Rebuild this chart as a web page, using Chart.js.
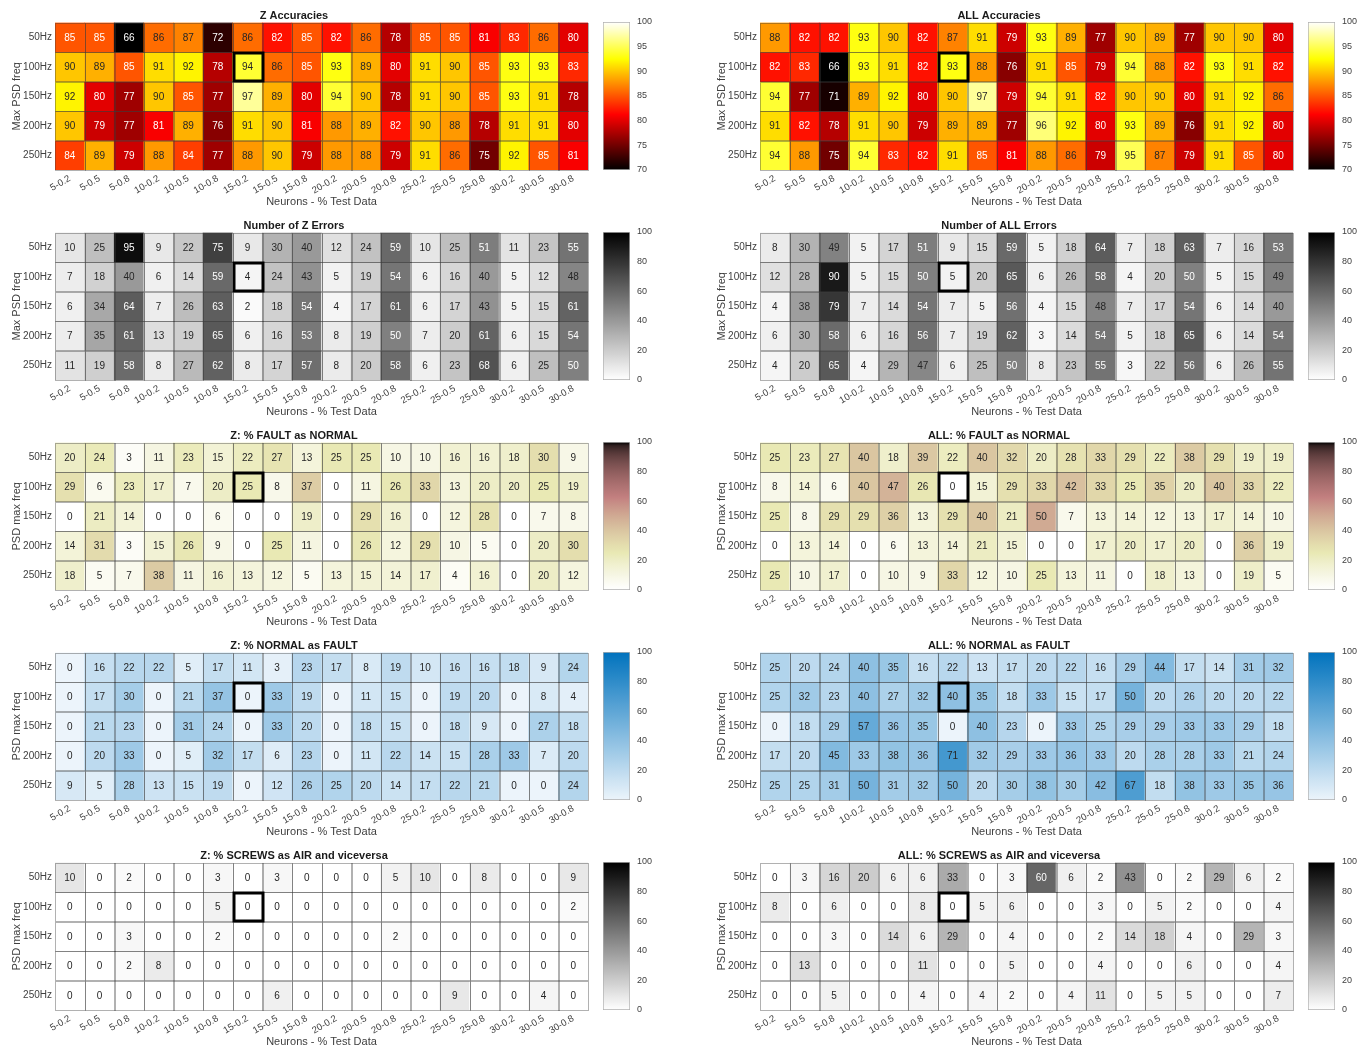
<!DOCTYPE html>
<html>
<head>
<meta charset="utf-8">
<style>
body { margin:0; background:#fff; width:1370px; height:1048px; position:relative; overflow:hidden; }
canvas { position:absolute; }
</style>
</head>
<body>
<script src="https://cdn.jsdelivr.net/npm/chart.js"></script>
<script>
var cols = ['5-0.2','5-0.5','5-0.8','10-0.2','10-0.5','10-0.8','15-0.2','15-0.5','15-0.8',
	'20-0.2','20-0.5','20-0.8','25-0.2','25-0.5','25-0.8','30-0.2','30-0.5','30-0.8'];
var rows = ['50Hz','100Hz','150Hz','200Hz','250Hz'];

// colour limits of the colorbars
var accRange = [70, 100];
var pctRange = [0, 100];

// best configuration (100Hz, 15-0.2)
var best = [1, 6];

var zAcc = [
	[85,85,66,86,87,72,86,82,85,82,86,78,85,85,81,83,86,80],
	[90,89,85,91,92,78,94,86,85,93,89,80,91,90,85,93,93,83],
	[92,80,77,90,85,77,97,89,80,94,90,78,91,90,85,93,91,78],
	[90,79,77,81,89,76,91,90,81,88,89,82,90,88,78,91,91,80],
	[84,89,79,88,84,77,88,90,79,88,88,79,91,86,75,92,85,81],
];
var allAcc = [
	[88,82,82,93,90,82,87,91,79,93,89,77,90,89,77,90,90,80],
	[82,83,66,93,91,82,93,88,76,91,85,79,94,88,82,93,91,82],
	[94,77,71,89,92,80,90,97,79,94,91,82,90,90,80,91,92,86],
	[91,82,78,91,90,79,89,89,77,96,92,80,93,89,76,91,92,80],
	[94,88,75,94,83,82,91,85,81,88,86,79,95,87,79,91,85,80],
];
var zErr = [
	[10,25,95,9,22,75,9,30,40,12,24,59,10,25,51,11,23,55],
	[7,18,40,6,14,59,4,24,43,5,19,54,6,16,40,5,12,48],
	[6,34,64,7,26,63,2,18,54,4,17,61,6,17,43,5,15,61],
	[7,35,61,13,19,65,6,16,53,8,19,50,7,20,61,6,15,54],
	[11,19,58,8,27,62,8,17,57,8,20,58,6,23,68,6,25,50],
];
var allErr = [
	[8,30,49,5,17,51,9,15,59,5,18,64,7,18,63,7,16,53],
	[12,28,90,5,15,50,5,20,65,6,26,58,4,20,50,5,15,49],
	[4,38,79,7,14,54,7,5,56,4,15,48,7,17,54,6,14,40],
	[6,30,58,6,16,56,7,19,62,3,14,54,5,18,65,6,14,54],
	[4,20,65,4,29,47,6,25,50,8,23,55,3,22,56,6,26,55],
];
var zFaultNormal = [
	[20,24,3,11,23,15,22,27,13,25,25,10,10,16,16,18,30,9],
	[29,6,23,17,7,20,25,8,37,0,11,26,33,13,20,20,25,19],
	[0,21,14,0,0,6,0,0,19,0,29,16,0,12,28,0,7,8],
	[14,31,3,15,26,9,0,25,11,0,26,12,29,10,5,0,20,30],
	[18,5,7,38,11,16,13,12,5,13,15,14,17,4,16,0,20,12],
];
var allFaultNormal = [
	[25,23,27,40,18,39,22,40,32,20,28,33,29,22,38,29,19,19],
	[8,14,6,40,47,26,0,15,29,33,42,33,25,35,20,40,33,22],
	[25,8,29,29,36,13,29,40,21,50,7,13,14,12,13,17,14,10],
	[0,13,14,0,6,13,14,21,15,0,0,17,20,17,20,0,36,19],
	[25,10,17,0,10,9,33,12,10,25,13,11,0,18,13,0,19,5],
];
var zNormalFault = [
	[0,16,22,22,5,17,11,3,23,17,8,19,10,16,16,18,9,24],
	[0,17,30,0,21,37,0,33,19,0,11,15,0,19,20,0,8,4],
	[0,21,23,0,31,24,0,33,20,0,18,15,0,18,9,0,27,18],
	[0,20,33,0,5,32,17,6,23,0,11,22,14,15,28,33,7,20],
	[9,5,28,13,15,19,0,12,26,25,20,14,17,22,21,0,0,24],
];
var allNormalFault = [
	[25,20,24,40,35,16,22,13,17,20,22,16,29,44,17,14,31,32],
	[25,32,23,40,27,32,40,35,18,33,15,17,50,20,26,20,20,22],
	[0,18,29,57,36,35,0,40,23,0,33,25,29,29,33,33,29,18],
	[17,20,45,33,38,36,71,32,29,33,36,33,20,28,28,33,21,24],
	[25,25,31,50,31,32,50,20,30,38,30,42,67,18,38,33,35,36],
];
var zScrews = [
	[10,0,2,0,0,3,0,3,0,0,0,5,10,0,8,0,0,9],
	[0,0,0,0,0,5,0,0,0,0,0,0,0,0,0,0,0,2],
	[0,0,3,0,0,2,0,0,0,0,0,2,0,0,0,0,0,0],
	[0,0,2,8,0,0,0,0,0,0,0,0,0,0,0,0,0,0],
	[0,0,0,0,0,0,0,6,0,0,0,0,0,9,0,0,4,0],
];
var allScrews = [
	[0,3,16,20,6,6,33,0,3,60,6,2,43,0,2,29,6,2],
	[8,0,6,0,0,8,0,5,6,0,0,3,0,5,2,0,0,4],
	[0,0,3,0,14,6,29,0,4,0,0,2,14,18,4,0,29,3],
	[0,13,0,0,0,11,0,0,5,0,0,4,0,0,6,0,0,4],
	[0,0,5,0,0,4,0,4,2,0,4,11,0,5,5,0,0,7],
];

Chart.defaults.font.family = "'Liberation Sans', Arial, sans-serif";
Chart.defaults.color = '#262626';
Chart.defaults.animation = false;
Chart.defaults.plugins.legend.display = false;
Chart.defaults.plugins.tooltip.enabled = false;

function clamp(t) { return Math.max(0, Math.min(1, t)); }
// matlab style colormaps, t in 0..1 -> [r,g,b] in 0..1
function hot(t) { return [clamp(t/0.375), clamp((t-0.375)/0.375), clamp((t-0.75)/0.25)]; }
function grayR(t) { var v = 1-t; return [v, v, v]; }
function pinkR(t) { var x = 1-t; return hot(x).map(c => Math.sqrt((2*x + c)/3)); }
function blues(t) { return [236-236*t, 244-130*t, 251-62*t].map(c => c/255); }

function rgb(c) { return 'rgb(' + c.map(v => Math.round(v*255)).join(',') + ')'; }
function cellColor(p, v) { return p.cmap(clamp((v - p.range[0]) / (p.range[1] - p.range[0]))); }

var panels = [
	{vals: zAcc, title: 'Z Accuracies', cmap: hot, range: accRange, step: 5, ytitle: 'Max PSD freq'},
	{vals: allAcc, title: 'ALL Accuracies', cmap: hot, range: accRange, step: 5, ytitle: 'Max PSD freq'},
	{vals: zErr, title: 'Number of Z Errors', cmap: grayR, range: pctRange, step: 20, ytitle: 'Max PSD freq'},
	{vals: allErr, title: 'Number of ALL Errors', cmap: grayR, range: pctRange, step: 20, ytitle: 'Max PSD freq'},
	{vals: zFaultNormal, title: 'Z: % FAULT as NORMAL', cmap: pinkR, range: pctRange, step: 20, ytitle: 'PSD max freq'},
	{vals: allFaultNormal, title: 'ALL: % FAULT as NORMAL', cmap: pinkR, range: pctRange, step: 20, ytitle: 'PSD max freq'},
	{vals: zNormalFault, title: 'Z: % NORMAL as FAULT', cmap: blues, range: pctRange, step: 20, ytitle: 'PSD max freq'},
	{vals: allNormalFault, title: 'ALL: % NORMAL as FAULT', cmap: blues, range: pctRange, step: 20, ytitle: 'PSD max freq'},
	{vals: zScrews, title: 'Z: % SCREWS as AIR and viceversa', cmap: grayR, range: pctRange, step: 20, ytitle: 'PSD max freq'},
	{vals: allScrews, title: 'ALL: % SCREWS as AIR and viceversa', cmap: grayR, range: pctRange, step: 20, ytitle: 'PSD max freq'},
];

// writes numbers, cell grid and the highlight box on top of the bars
var cellPlugin = {
	id: 'cells',
	afterDatasetsDraw(chart, args, opts) {
		var ctx = chart.ctx, p = opts.panel;
		ctx.save();
		chart.data.datasets.forEach((ds, r) => {
			chart.getDatasetMeta(r).data.forEach((el, c) => {
				var b = el.getProps(['x','y','base','width'], true);
				var l = Math.round(b.x - b.width/2), w = Math.round(b.width);
				var t = Math.round(Math.min(b.y, b.base)), h = Math.round(Math.abs(b.base - b.y));
				ctx.strokeStyle = 'rgba(60,60,60,0.4)';
				ctx.lineWidth = 1;
				ctx.strokeRect(l + 0.5, t + 0.5, w, h);
				var v = p.vals[r][c], col = cellColor(p, v);
				var lum = 0.299*col[0] + 0.587*col[1] + 0.114*col[2];
				ctx.fillStyle = lum > 0.5 ? '#262626' : '#ffffff';
				ctx.font = "10px 'Liberation Sans', Arial, sans-serif";
				ctx.textAlign = 'center';
				ctx.textBaseline = 'middle';
				ctx.fillText(String(v), b.x, (b.y + b.base)/2 + 0.5);
			});
		});
		var e = chart.getDatasetMeta(best[0]).data[best[1]].getProps(['x','y','base','width'], true);
		ctx.strokeStyle = '#000';
		ctx.lineWidth = 3;
		ctx.strokeRect(Math.round(e.x - e.width/2) + 1, Math.round(Math.min(e.y, e.base)) + 1,
			Math.round(e.width) - 1, Math.round(Math.abs(e.base - e.y)) - 1);
		ctx.restore();
	}
};

function addCanvas(left, top, w, h) {
	var cv = document.createElement('canvas');
	cv.width = w; cv.height = h;
	cv.style.left = left + 'px'; cv.style.top = top + 'px';
	cv.style.width = w + 'px'; cv.style.height = h + 'px';
	document.body.appendChild(cv);
	return cv;
}

var colLeft = [0, 705];

panels.forEach((p, i) => {
	var left = colLeft[i % 2], top = Math.floor(i / 2) * 210;

	new Chart(addCanvas(left, top, 595, 210), {
		type: 'bar',
		data: {
			labels: cols,
			datasets: rows.map((r, ri) => ({
				label: r,
				data: cols.map(() => [ri, ri + 1]),
				backgroundColor: p.vals[ri].map(v => rgb(cellColor(p, v))),
				borderWidth: 0,
				barPercentage: 1,
				categoryPercentage: 1,
				grouped: false,
			}))
		},
		options: {
			responsive: false,
			devicePixelRatio: 1,
			layout: {padding: {left: 0, right: 7, top: 0, bottom: 0}},
			scales: {
				x: {
					grid: {display: false, drawTicks: false},
					border: {display: false},
					ticks: {autoSkip: false, minRotation: 30, maxRotation: 30, font: {size: 9.5}, color: '#404040', padding: 3},
					title: {display: true, text: 'Neurons - % Test Data', font: {size: 11}, color: '#404040', padding: {top: 0, bottom: 1}},
					afterFit: s => { s.height = 40; },
				},
				y: {
					type: 'linear', min: 0, max: 5, reverse: true,
					afterBuildTicks: s => { s.ticks = rows.map((r, k) => ({value: k + 0.5})); },
					grid: {display: false, drawTicks: false},
					border: {display: false},
					ticks: {callback: (v, k) => rows[k], font: {size: 10}, color: '#404040', padding: 3},
					title: {display: true, text: p.ytitle, font: {size: 11}, color: '#404040', padding: {top: 10, bottom: 0}},
					afterFit: s => { s.width = 55; },
				}
			},
			plugins: {
				title: {display: true, text: p.title, font: {size: 11, weight: 'bold'}, color: '#1a1a1a', padding: {top: 9, bottom: 0.4}},
				cells: {panel: p},
			}
		},
		plugins: [cellPlugin]
	});

	// colorbar
	new Chart(addCanvas(left + 595, top, 70, 210), {
		type: 'bar',
		data: {
			labels: [''],
			datasets: [{
				data: [p.range],
				backgroundColor: function(c) {
					var a = c.chart.chartArea;
					if (!a) return '#fff';
					var g = c.chart.ctx.createLinearGradient(0, a.bottom, 0, a.top);
					for (var k = 0; k <= 40; k++) g.addColorStop(k/40, rgb(p.cmap(k/40)));
					return g;
				},
				borderColor: '#b0b0b0',
				borderWidth: 1,
				borderSkipped: false,
				barPercentage: 1,
				categoryPercentage: 1,
			}]
		},
		options: {
			responsive: false,
			devicePixelRatio: 1,
			layout: {padding: {left: 8, right: 0, top: 22, bottom: 40}},
			scales: {
				x: {display: false},
				y: {
					position: 'right', min: p.range[0], max: p.range[1],
					grid: {display: false, drawTicks: false},
					border: {display: false},
					ticks: {stepSize: p.step, font: {size: 9}, color: '#404040', padding: 7},
					afterFit: s => { s.width = 35; },
				}
			}
		}
	});
});
</script>
</body>
</html>
